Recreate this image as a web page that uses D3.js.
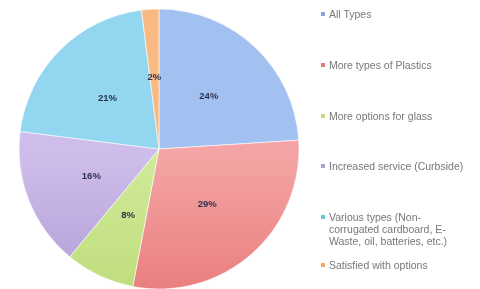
<!DOCTYPE html>
<html>
<head>
<meta charset="utf-8">
<script src="https://cdn.jsdelivr.net/npm/d3@7"></script>
<style>
  body { margin: 0; background: #fff; }
  svg { display: block; filter: blur(0.45px); }
</style>
</head>
<body>
<script>
// Kategorien und Werte
const categories = [
  "All Types",
  "More types of Plastics",
  "More options for glass",
  "Increased service (Curbside)",
  "Various types (Non-corrugated cardboard, E-Waste, oil, batteries, etc.)",
  "Satisfied with options"
];
const values = [24, 29, 8, 16, 21, 2];
const legendLines = [
  ["All Types"],
  ["More types of Plastics"],
  ["More options for glass"],
  ["Increased service (Curbside)"],
  ["Various types (Non-", "corrugated cardboard, E-", "Waste, oil, batteries, etc.)"],
  ["Satisfied with options"]
];

const width = 480, height = 289;
const cx = 159, cy = 149, r = 140;

// Farben: oben hell, unten dunkel (Verlauf wie in Excel)
const topColors = ["#a2c0f0", "#f4a4a4", "#d0ea98", "#cebcea", "#92d6f0", "#f8ba82"];
const bottomColors = ["#5a8ad2", "#de5656", "#acd060", "#927ec4", "#3ab2ce", "#f09a4c"];
const color = d3.scaleOrdinal().domain(categories).range(topColors.map((c, i) => d3.interpolateRgb(c, bottomColors[i])(0.5)));

const svg = d3.select("body").append("svg")
    .attr("width", width)
    .attr("height", height)
    .attr("viewBox", [0, 0, width, height]);

const defs = svg.append("defs");
categories.forEach((c, i) => {
  const g = defs.append("linearGradient")
      .attr("id", "grad" + i)
      .attr("gradientUnits", "userSpaceOnUse")
      .attr("x1", 0).attr("y1", cy - r)
      .attr("x2", 0).attr("y2", cy + r);
  g.append("stop").attr("offset", "0%").attr("stop-color", topColors[i]);
  g.append("stop").attr("offset", "100%").attr("stop-color", bottomColors[i]);
});

const data = categories.map((c, i) => ({ name: c, value: values[i], i }));

const pie = d3.pie().sort(null).value(d => d.value);
const arc = d3.arc().innerRadius(0).outerRadius(r);
const labelArc = d3.arc().innerRadius(r * 0.52).outerRadius(r * 0.52);

const arcs = pie(data);

const g = svg.append("g").attr("transform", `translate(${cx},${cy})`);

g.selectAll("path")
  .data(arcs)
  .join("path")
    .attr("d", arc)
    .attr("fill", d => `url(#grad${d.data.i})`)
    .attr("stroke", "#fff")
    .attr("stroke-width", 0.6);

// Prozent-Labels
g.selectAll("text")
  .data(arcs)
  .join("text")
    .attr("transform", d => `translate(${labelArc.centroid(d)})`)
    .attr("text-anchor", "middle")
    .attr("dy", "0.35em")
    .attr("font-family", "Liberation Sans, Arial, sans-serif")
    .attr("font-size", 9.5)
    .attr("font-weight", "bold")
    .attr("fill", "#2c3450")
    .text(d => d.data.value + "%");

// Legende
const legendY = [15, 66, 117, 167, 218, 266];
const legend = svg.append("g")
    .attr("font-family", "Liberation Sans, Arial, sans-serif")
    .attr("font-size", 10.5)
    .attr("fill", "#777");

legendLines.forEach((lines, i) => {
  const item = legend.append("g").attr("transform", `translate(321,${legendY[i]})`);
  item.append("rect")
      .attr("x", 0).attr("y", -3)
      .attr("width", 4).attr("height", 4)
      .attr("fill", color(categories[i]));
  item.selectAll("text")
    .data(lines)
    .join("text")
      .attr("x", 8)
      .attr("y", (d, j) => j * 12)
      .attr("dy", "0.28em")
      .text(d => d);
});
</script>
</body>
</html>
